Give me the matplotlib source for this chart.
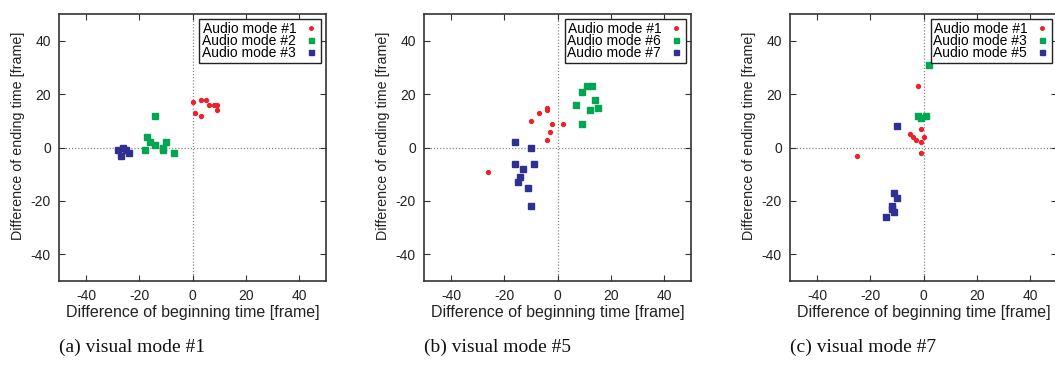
import matplotlib
matplotlib.use("Agg")
import matplotlib.pyplot as plt

# ---- data ----
# panel (a) visual mode #1
a_labels = ["Audio mode #1", "Audio mode #2", "Audio mode #3"]
a_m1_x = [0, 3, 5, 6, 8, 9, 9, 1, 3]
a_m1_y = [17, 18, 18, 16, 16, 16, 14, 13, 12]
a_m2_x = [-14, -17, -16, -14, -11, -11, -10, -18, -7]
a_m2_y = [12, 4, 2, 1, 0, -1, 2, -1, -2]
a_m3_x = [-28, -26, -25, -24, -27]
a_m3_y = [-1, 0, -1, -2, -3]

# panel (b) visual mode #5
b_labels = ["Audio mode #1", "Audio mode #6", "Audio mode #7"]
b_m1_x = [-4, -4, -7, -10, -2, 2, -3, -4, -26]
b_m1_y = [15, 14, 13, 10, 9, 9, 6, 3, -9]
b_m6_x = [11, 13, 9, 14, 7, 15, 12, 9]
b_m6_y = [23, 23, 21, 18, 16, 15, 14, 9]
b_m7_x = [-16, -10, -16, -9, -13, -14, -15, -11, -10]
b_m7_y = [2, 0, -6, -6, -8, -11, -13, -15, -22]

# panel (c) visual mode #7
c_labels = ["Audio mode #1", "Audio mode #3", "Audio mode #5"]
c_m1_x = [-2, -1, -5, -4, -3, 0, -1, -1, -25]
c_m1_y = [23, 7, 5, 4, 3, 4, 2, -2, -3]
c_m3_x = [2, -2, -1, 1]
c_m3_y = [31, 12, 11, 12]
c_m5_x = [-10, -11, -10, -12, -12, -11, -14]
c_m5_y = [8, -17, -19, -22, -23, -24, -26]

captions = ["(a) visual mode #1", "(b) visual mode #5", "(c) visual mode #7"]
ticks = [-40, -20, 0, 20, 40]
xlabel = "Difference of beginning time [frame]"
ylabel = "Difference of ending time [frame]"

RED = "#ec2227"
GREEN = "#00a651"
BLUE = "#2e3192"

plt.rcParams['font.family'] = ['Liberation Sans', 'DejaVu Sans']
plt.rcParams['axes.unicode_minus'] = False

fig = plt.figure(figsize=(10.55, 3.74), dpi=100)
W, H = 1055.0, 374.0
lefts = [59.3, 424.3, 790.3]
ax_w = 266.7
ax_h = 266.7
ax_top = 14.3

panels = [
    (a_labels, [(a_m1_x, a_m1_y), (a_m2_x, a_m2_y), (a_m3_x, a_m3_y)]),
    (b_labels, [(b_m1_x, b_m1_y), (b_m6_x, b_m6_y), (b_m7_x, b_m7_y)]),
    (c_labels, [(c_m1_x, c_m1_y), (c_m3_x, c_m3_y), (c_m5_x, c_m5_y)]),
]

for i, (labels, series) in enumerate(panels):
    ax = fig.add_axes([lefts[i] / W, (H - ax_top - ax_h) / H, ax_w / W, ax_h / H])
    ax.set_xlim(-50, 50)
    ax.set_ylim(-50, 50)
    ax.axhline(0, color="#888888", lw=0.9, ls=(0, (1, 1.5)), zorder=1)
    ax.axvline(0, color="#888888", lw=0.9, ls=(0, (1, 1.5)), zorder=1)
    colors = [RED, GREEN, BLUE]
    markers = ["o", "s", "s"]
    sizes = [2.8, 4.0, 4.0]
    for (xs, ys), lab, c, m, s in zip(series, labels, colors, markers, sizes):
        ax.plot(xs, ys, ls="none", marker=m, ms=s, color=c, mec=c, label=lab, zorder=3)
    ax.set_xticks(ticks)
    ax.set_yticks(ticks)
    ax.tick_params(direction="in", length=4, width=0.8, top=True, right=True,
                   labelsize=10, colors="#333333", labelcolor="#222222", pad=6)
    for sp in ax.spines.values():
        sp.set_linewidth(1.2)
        sp.set_color("#333333")
    ax.set_xlabel(xlabel, fontsize=11.5, color="#222222", labelpad=1)
    ax.set_ylabel(ylabel, fontsize=10.3, color="#222222")
    ax.yaxis.set_label_coords(-0.128, 0.545)
    leg = ax.legend(loc="upper right", markerfirst=False, fontsize=10,
                    frameon=True, fancybox=False, framealpha=1, edgecolor="#222222",
                    borderpad=0.2, labelspacing=-0.15, handlelength=1.0,
                    handletextpad=0.6, borderaxespad=0.35, markerscale=0.9)
    leg.get_frame().set_linewidth(1.0)
    fig.text(lefts[i] / W, 1 - 347 / H, captions[i], ha="left", va="center",
             fontsize=14, family=["Liberation Serif", "DejaVu Serif"], color="#111111")

fig.savefig("out.png", dpi=100)
